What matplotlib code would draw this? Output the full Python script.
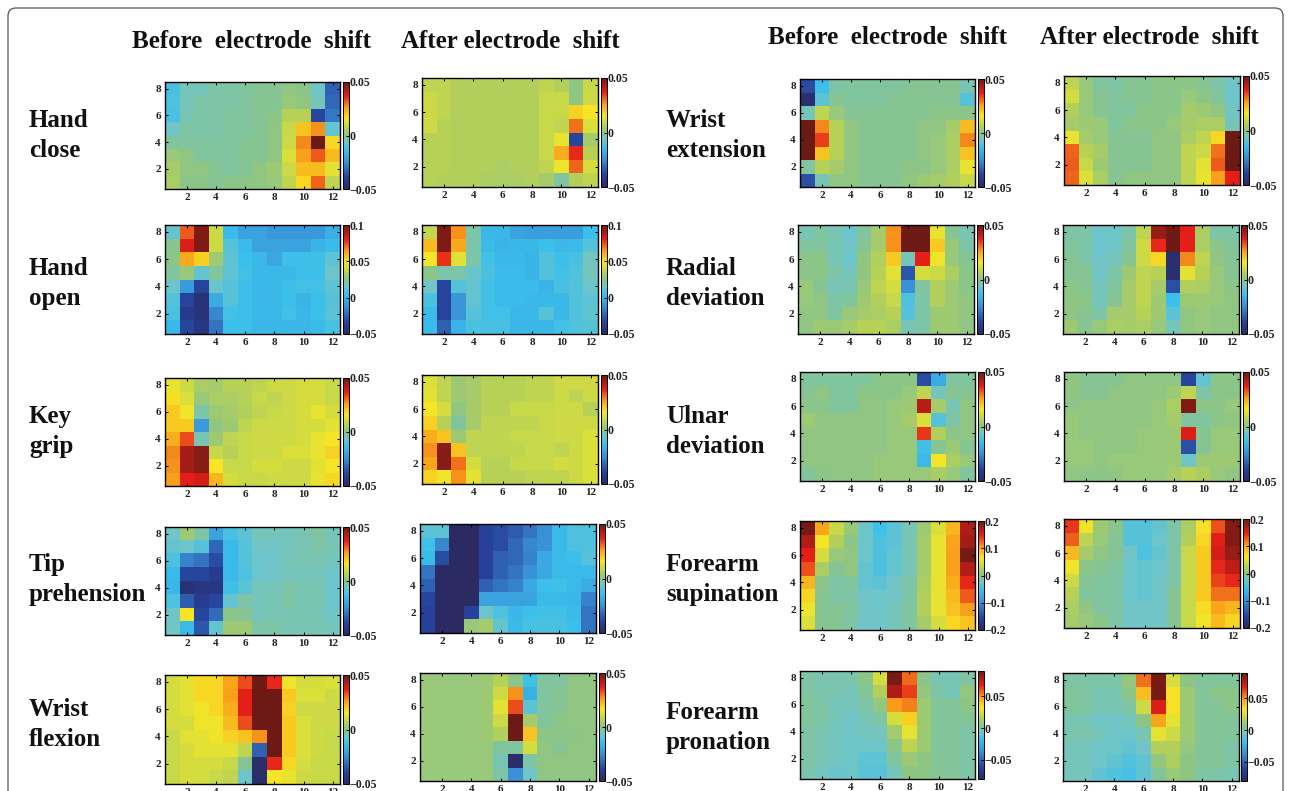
import numpy as np
import matplotlib
matplotlib.use('Agg')
import matplotlib.pyplot as plt
from matplotlib.colors import LinearSegmentedColormap
from matplotlib.patches import FancyBboxPatch

W, H = 1291, 791

# Valores en milesimas, fila 8 arriba, fila 1 abajo
hand_close_before = [
    [-12, -5, -5, -3, -3, -2, -1, -1, 1, 0, -6, -33],
    [-11, -5, -3, -3, -3, -2, -1, -1, 2, 1, -5, -32],
    [-12, -4, -3, -3, -2, -2, -1, 0, 7, 7, -38, -29],
    [-6, -3, -3, -3, -2, -2, -1, 1, 9, 21, 27, -8],
    [-2, -2, -2, -2, -2, -1, -1, 1, 10, 28, 50, 18],
    [2, 1, -2, -2, -2, -1, -1, 1, 12, 26, 32, 22],
    [4, 1, 1, -1, -2, -1, 1, 3, 10, 22, 22, 13],
    [5, 0, 0, -1, 0, 0, 1, 2, 8, 18, 31, 8]]
hand_close_after = [
    [8, 8, 6, 6, 6, 6, 6, 6, 8, 6, 1, 9],
    [10, 8, 6, 6, 6, 6, 6, 6, 9, 9, 1, 10],
    [10, 8, 6, 6, 6, 6, 6, 6, 9, 9, 19, 16],
    [10, 7, 6, 6, 6, 6, 6, 6, 9, 8, 30, 12],
    [7, 7, 6, 6, 6, 6, 6, 6, 9, 14, -38, 4],
    [7, 7, 6, 6, 6, 6, 6, 6, 9, 24, 36, 7],
    [7, 7, 6, 6, 6, 5, 6, 6, 8, 15, 31, 11],
    [7, 6, 6, 6, 5, 5, 5, 6, 4, -2, 6, 8]]
hand_open_before = [
    [13, 73, 97, 40, 3, -6, -6, -9, -9, -9, -9, -1],
    [24, 82, 97, 40, 10, 3, -5, -6, -6, -6, 0, 3],
    [26, 62, 54, 30, 12, 4, 2, -4, 5, 5, 5, 12],
    [22, 28, 13, 22, 12, 6, 2, 2, 2, 5, 5, 15],
    [15, -8, -33, 14, 10, 5, 2, 2, 5, 6, 6, 12],
    [10, -33, -43, -2, 10, 5, 2, 2, 4, 0, 4, 10],
    [8, -38, -43, -14, 6, 4, 2, 2, 6, 1, 4, 11],
    [2, -32, -40, -20, 4, 4, 1, 1, 1, 1, 3, 8]]
hand_open_after = [
    [38, 97, 66, 20, 2, 1, -6, -7, -7, -7, -7, 4],
    [58, 97, 62, 20, 3, 0, 1, 1, 4, 2, 3, 10],
    [48, 78, 44, 20, 6, 2, 2, 0, 9, 4, 7, 17],
    [25, 20, 20, 14, 8, 3, 3, 0, 9, 6, 9, 17],
    [16, -33, 10, 13, 6, 3, 3, 3, 0, 7, 9, 15],
    [8, -33, -10, 13, 6, 3, 3, 2, 2, 2, 9, 12],
    [3, -33, -10, 10, 6, 6, 2, 2, 10, 2, 9, 12],
    [3, -25, 0, 8, 7, 7, 1, 1, 1, 6, 9, 10]]
key_grip_before = [
    [14, 10, 5, 4, 7, 7, 8, 10, 10, 11, 11, 9],
    [17, 12, 2, 5, 5, 7, 9, 8, 10, 11, 11, 9],
    [20, 15, -3, 3, 4, 6, 8, 9, 10, 11, 14, 11],
    [20, 20, -22, 1, 3, 8, 10, 10, 10, 11, 11, 13],
    [24, 33, -4, 3, 8, 9, 10, 10, 10, 11, 14, 16],
    [28, 44, 47, 9, 7, 9, 10, 10, 12, 12, 14, 19],
    [27, 44, 47, 16, 9, 9, 11, 11, 10, 10, 13, 16],
    [26, 37, 39, 23, 11, 9, 9, 10, 10, 10, 14, 18]]
key_grip_after = [
    [12, 8, 3, 4, 7, 7, 7, 8, 8, 10, 10, 10],
    [13, 8, 3, 4, 7, 7, 7, 8, 8, 10, 8, 10],
    [16, 11, 1, 4, 7, 7, 9, 9, 9, 10, 10, 7],
    [19, 7, -2, 4, 8, 8, 8, 8, 9, 10, 10, 10],
    [24, 21, 3, 8, 8, 8, 9, 9, 9, 10, 10, 12],
    [27, 47, 21, 8, 8, 8, 8, 9, 9, 8, 10, 12],
    [25, 47, 30, 11, 7, 7, 9, 9, 9, 11, 10, 12],
    [19, 15, 27, 13, 7, 7, 7, 8, 8, 8, 10, 12]]
tip_before = [
    [-6, 3, -3, -20, -12, -9, -5, -5, -5, -4, -2, -5],
    [-8, -7, -10, -32, -15, -10, -6, -6, -5, -4, -3, -4],
    [-11, -27, -30, -37, -15, -10, -7, -6, -5, -4, -4, -5],
    [-15, -38, -38, -41, -15, -11, -7, -6, -5, -5, -5, -7],
    [-16, -46, -43, -43, -13, -9, -5, -5, -3, -4, -4, -7],
    [-11, -34, -41, -38, -8, -3, -5, -4, -3, -4, -4, -7],
    [-6, 16, -38, -31, 0, -1, -5, -4, -4, -4, -4, -6],
    [-6, -15, -35, -8, 3, 3, -3, -3, -4, -4, -4, -5]]
tip_after = [
    [-9, -9, -50, -50, -39, -37, -34, -30, -24, -15, -11, -11],
    [-13, -26, -50, -50, -39, -37, -32, -26, -24, -15, -11, -11],
    [-15, -37, -50, -50, -39, -33, -32, -27, -19, -15, -14, -10],
    [-30, -50, -50, -50, -39, -33, -30, -24, -19, -15, -15, -15],
    [-33, -50, -50, -50, -33, -30, -27, -19, -14, -13, -15, -18],
    [-38, -50, -50, -50, -20, -20, -20, -20, -15, -15, -16, -27],
    [-39, -50, -50, -39, -7, -11, -16, -14, -13, -13, -15, -30],
    [-39, -50, -50, 2, 4, -8, -15, -12, -12, -12, -14, -30]]
flexion_before = [
    [11, 13, 18, 18, 25, 33, 50, 36, 15, 11, 11, 12],
    [11, 13, 18, 18, 26, 37, 50, 50, 20, 12, 12, 10],
    [11, 13, 15, 18, 24, 37, 50, 50, 19, 10, 10, 10],
    [11, 11, 15, 15, 22, 33, 50, 50, 20, 12, 10, 10],
    [9, 13, 13, 15, 19, 21, 27, 50, 20, 12, 10, 9],
    [9, 11, 13, 13, 13, 8, -33, 50, 20, 12, 10, 9],
    [9, 11, 11, 11, 9, -1, -48, 36, 18, 11, 9, 9],
    [9, 11, 11, 9, 8, -7, -48, 16, 14, 10, 9, 9]]
flexion_after = [
    [2, 2, 2, 2, 3, 7, 0, -13, -2, -2, 1, 1],
    [2, 2, 2, 2, 3, 10, 27, -17, -2, -1, 1, 1],
    [2, 2, 2, 2, 3, 13, 33, -9, -2, -1, 1, 1],
    [2, 2, 2, 2, 3, 10, 50, 4, -2, 0, 1, 1],
    [2, 2, 2, 2, 3, 6, 50, 21, 0, 0, 0, 1],
    [2, 2, 2, 2, 2, -2, -2, 11, 1, -1, 1, 1],
    [2, 2, 2, 2, 2, -4, -48, -3, 1, 1, 1, 1],
    [2, 2, 2, 2, 2, -3, -24, -6, 1, 1, 1, 1]]
extension_before = [
    [-37, -14, -3, -2, -2, -2, -2, -1, -1, -1, -1, -4],
    [-47, -9, -1, -2, -2, -2, -1, -1, -1, -1, -1, -10],
    [-5, 8, 2, -1, -1, -1, -1, -1, -1, 0, 0, 0],
    [50, 28, 7, 1, -1, -1, -1, -1, 1, 1, 4, 22],
    [50, 34, 7, 1, -1, -1, -1, -1, 1, 2, 5, 28],
    [50, 21, 7, 1, -1, -1, -1, -1, 1, 2, 5, 21],
    [-2, 7, 4, 1, -1, -1, -1, 0, 0, 2, 5, 14],
    [-36, -4, 1, 1, -1, -1, -1, 1, 3, 4, 6, 9]]
extension_after = [
    [8, 2, -2, -3, -1, -1, 0, 0, 0, -1, -3, -6],
    [11, 2, -1, -2, -1, -1, 0, 0, 2, 0, -2, -7],
    [6, 2, -1, -2, -2, 0, 0, 0, 4, 3, 1, -6],
    [4, 3, 2, -2, 0, 0, 0, 2, 4, 5, 5, -5],
    [14, 4, 2, -1, -1, -1, 1, 1, 5, 8, 18, 50],
    [31, 7, 4, -1, -1, -1, 1, 1, 8, 10, 30, 50],
    [32, 9, 3, -1, -1, -1, 1, 1, 8, 13, 32, 50],
    [31, 12, 5, -1, 1, 1, 1, 1, 8, 14, 26, 37]]
radial_before = [
    [-4, -2, -4, -7, -2, 4, 27, 50, 50, 14, -1, -4],
    [-2, -2, -4, -6, -1, 4, 27, 50, 50, 20, 2, -3],
    [0, 0, -4, -7, 1, 6, 20, -5, 37, 15, 2, -1],
    [0, 0, -3, -5, 1, 7, 13, -35, 11, 10, 5, 0],
    [2, -1, -4, -4, 2, 8, 11, -24, -2, 6, 3, 0],
    [2, 1, -3, -2, 3, 6, 9, -11, -3, 6, 3, 1],
    [1, 1, -2, 2, 4, 5, 7, -10, -3, 3, 3, 1],
    [1, 3, 2, 4, 7, 7, 5, -4, -3, 3, 3, 1]]
radial_after = [
    [-3, -3, -7, -7, -3, 8, 45, 50, 37, 5, -3, -3],
    [-2, -3, -7, -6, -2, 10, 36, 50, 37, 5, 0, -2],
    [-1, -3, -6, -5, -1, 10, 18, -47, 28, 8, 1, -1],
    [-1, -1, -6, -3, 3, 8, 7, -47, 13, 7, 2, -1],
    [0, -1, -5, -2, 4, 8, 4, -36, 6, 5, 2, 0],
    [1, 0, -5, -1, 4, 8, 3, -14, 3, 3, 2, 1],
    [1, -1, -3, 4, 4, 7, 3, -9, 1, 2, 1, 1],
    [3, -1, 2, 5, 4, 5, 2, -5, 1, 2, 1, 1]]
ulnar_before = [
    [-2, -2, -2, -2, -2, 0, 0, 0, -37, -18, -2, -2],
    [-1, 1, -2, -2, 0, 0, 0, 2, 8, -5, -1, -1],
    [0, 0, -2, -2, 1, 1, 2, 3, 42, 4, -4, 1],
    [3, 1, 1, 1, 1, 1, 2, 4, 12, -10, -3, 1],
    [1, 1, 1, 1, 1, 1, 2, 2, 35, 6, 0, 1],
    [1, 1, 1, 1, 1, 1, 2, 2, -13, -1, 3, -1],
    [1, 1, 1, 1, 1, 2, 2, 2, -15, 16, 5, 2],
    [-2, 0, 1, 1, 1, 2, 2, 2, 2, 5, 2, -2]]
ulnar_after = [
    [1, -1, -1, -1, 1, 1, 1, 1, -38, -8, 0, 0],
    [1, -1, -1, 1, 1, 1, 1, 3, 8, -3, 0, 0],
    [0, 1, 1, 1, 1, 1, 2, 5, 48, 0, 0, 2],
    [2, 1, 1, 1, 1, 1, 2, 4, -2, -2, 0, 1],
    [2, 1, 1, 1, 1, 2, 2, 3, 38, -1, 2, 2],
    [2, 2, 1, 1, 1, 2, 2, 3, -36, -1, 2, 2],
    [2, 2, 1, 2, 2, 2, 2, 3, -6, 3, 3, 3],
    [1, 0, 0, 1, 2, 2, 2, 4, 7, 5, 2, 1]]
supination_before = [
    [196, 100, 36, 8, -28, -52, -36, -16, 12, 48, 92, 170],
    [170, 64, 24, 0, -28, -44, -36, -16, 16, 56, 100, 176],
    [148, 44, 8, 4, -28, -44, -32, -16, 16, 56, 104, 196],
    [130, 20, -4, 4, -32, -44, -32, -16, 16, 56, 104, 170],
    [92, 0, -12, -8, -32, -36, -24, -12, 20, 56, 96, 144],
    [72, -4, -12, -12, -24, -28, -24, -12, 24, 56, 88, 128],
    [58, -4, -4, -8, -24, -28, -20, -8, 24, 56, 84, 104],
    [48, -4, -4, -12, -24, -24, -20, -8, 16, 44, 72, 84]]
supination_after = [
    [140, 60, 12, 0, -40, -40, -32, -12, 20, 66, 130, 190],
    [125, 30, 8, -4, -40, -40, -28, -12, 24, 72, 150, 190],
    [90, 16, 4, -4, -24, -44, -32, -12, 36, 80, 155, 180],
    [60, 0, -4, -8, -28, -32, -28, -12, 36, 80, 145, 165],
    [40, -4, -8, -12, -28, -32, -24, -12, 36, 80, 135, 145],
    [28, -8, -8, -12, -28, -32, -24, -4, 36, 80, 120, 120],
    [20, 4, -8, -12, -24, -24, -24, -4, 36, 70, 100, 92],
    [16, 8, 0, -12, -24, -24, -24, -4, 36, 60, 88, 72]]
pronation_before = [
    [0, -1, -1, -1, 5, 24, 88, 57, 5, -2, -2, 1],
    [1, -1, -1, -3, 3, 15, 78, 63, 7, 0, -3, 8],
    [2, 0, -3, -3, 0, 7, 50, 54, 10, 2, 2, 6],
    [2, 0, -3, -5, -2, 1, 24, 38, 10, 2, 2, 3],
    [0, -1, -4, -5, -4, -3, 11, 28, 10, 2, 2, 0],
    [1, -2, -4, -6, -6, -6, 5, 18, 10, 2, 2, 0],
    [0, -2, -4, -6, -10, -10, 2, 10, 6, 3, 2, 0],
    [-1, -4, -7, -6, -11, -11, -3, 6, 6, 3, 2, 0]]
pronation_after = [
    [0, 0, 0, 0, 8, 56, 88, 24, 6, 2, 2, 2],
    [2, 1, -2, -2, 5, 42, 88, 33, 10, 2, 5, 5],
    [2, 1, -2, -2, 1, 22, 70, 33, 10, 2, 3, 5],
    [-2, -2, -5, -5, -3, 6, 48, 28, 10, 3, 3, 2],
    [-1, -1, -3, -6, -6, -2, 28, 22, 10, 3, 3, 2],
    [-3, -3, -6, -6, -9, -5, 15, 15, 8, 3, 3, 0],
    [-3, -3, -6, -9, -13, -9, 7, 14, 6, 3, 3, 0],
    [-3, -3, -9, -13, -16, -9, 2, 9, 6, 1, 0, -2]]

# Escalas de las barras de color
scale_050 = (-0.05, 0.05, [-0.05, 0, 0.05], ['\u22120.05', '0', '0.05'])
scale_open = (-0.05, 0.1, [-0.05, 0, 0.05, 0.1], ['\u22120.05', '0', '0.05', '0.1'])
scale_sup = (-0.2, 0.2, [-0.2, -0.1, 0, 0.1, 0.2], ['\u22120.2', '\u22120.1', '0', '0.1', '0.2'])
scale_pron = (-0.08, 0.09, [-0.05, 0, 0.05], ['\u22120.05', '0', '0.05'])

# jet impreso en CMYK
cmap = LinearSegmentedColormap.from_list('jet_cmyk', [
    (0.00, '#2b2a62'), (0.11, '#27419a'), (0.25, '#3a8fd5'), (0.36, '#3bbfec'),
    (0.44, '#72c6c6'), (0.50, '#8ac58a'), (0.56, '#b2cf5c'), (0.62, '#dbe03a'),
    (0.66, '#f7e627'), (0.76, '#f9a11b'), (0.82, '#ee5a1c'), (0.87, '#e61f19'),
    (1.00, '#6e1a14')])

# datos, escala, izquierda, derecha, arriba, abajo, barra izquierda (pixeles)
panels = [
    (hand_close_before, scale_050, 165, 340, 82, 189, 343),
    (hand_close_after, scale_050, 422, 598, 78, 187, 601),
    (hand_open_before, scale_open, 165, 340, 225, 334, 343),
    (hand_open_after, scale_open, 422, 598, 225, 334, 601),
    (key_grip_before, scale_050, 165, 340, 378, 486, 343),
    (key_grip_after, scale_050, 422, 598, 375, 484, 601),
    (tip_before, scale_050, 165, 340, 527, 635, 343),
    (tip_after, scale_050, 420, 596, 524, 633, 599),
    (flexion_before, scale_050, 165, 340, 675, 784, 343),
    (flexion_after, scale_050, 420, 596, 673, 781, 599),
    (extension_before, scale_050, 800, 975, 79, 187, 978),
    (extension_after, scale_050, 1064, 1240, 76, 185, 1243),
    (radial_before, scale_050, 798, 974, 225, 334, 977),
    (radial_after, scale_050, 1063, 1239, 225, 334, 1241),
    (ulnar_before, scale_050, 800, 975, 372, 481, 978),
    (ulnar_after, scale_050, 1064, 1240, 372, 481, 1243),
    (supination_before, scale_sup, 800, 975, 521, 630, 978),
    (supination_after, scale_sup, 1064, 1240, 519, 628, 1243),
    (pronation_before, scale_pron, 800, 975, 671, 779, 978),
    (pronation_after, scale_pron, 1063, 1239, 673, 781, 1241),
]

# texto 1, texto 2, x, linea base 1, linea base 2
row_labels = [
    ('Hand', 'close', 29, 127, 157), ('Hand', 'open', 29, 275, 305),
    ('Key', 'grip', 29, 423, 453), ('Tip', 'prehension', 29, 571, 601),
    ('Wrist', 'flexion', 29, 716, 746),
    ('Wrist', 'extension', 666, 127, 157), ('Radial', 'deviation', 666, 275, 305),
    ('Ulnar', 'deviation', 666, 423, 453), ('Forearm', 'supination', 666, 571, 601),
    ('Forearm', 'pronation', 666, 719, 749),
]
col_titles = [
    ('Before  electrode  shift', 132, 48), ('After electrode  shift', 401, 48),
    ('Before  electrode  shift', 768, 44), ('After electrode  shift', 1040, 44),
]

serif = 'Liberation Serif'
fig = plt.figure(figsize=(W / 100, H / 100), dpi=100)

# marco redondeado, el borde inferior queda fuera de la imagen
frame = FancyBboxPatch((8, -20), 1275, H - 8 + 20, boxstyle='round,pad=0,rounding_size=8',
                       transform=None, fc='white', ec='#555555', lw=0.9, zorder=-1)
fig.add_artist(frame)


def px_axes(left, right, top, bottom):
    return fig.add_axes([left / W, 1 - bottom / H, (right - left) / W, (bottom - top) / H])


for data, scale, left, right, top, bottom, cb_left in panels:
    vmin, vmax, cb_ticks, cb_labels = scale
    valores = np.array(data, dtype=float) / 1000
    ax = px_axes(left, right, top, bottom)
    im = ax.imshow(valores[::-1], origin='lower', extent=(0.5, 12.5, 0.5, 8.5), aspect='auto',
                   cmap=cmap, vmin=vmin, vmax=vmax, interpolation='nearest')
    ax.set_xticks(range(2, 13, 2))
    ax.set_yticks(range(2, 9, 2))
    ax.tick_params(direction='in', length=2, width=0.7, pad=3, top=True, right=True,
                   labelsize=8, labelcolor='#222222')
    for lab in ax.get_xticklabels() + ax.get_yticklabels():
        lab.set_fontfamily(serif)
        lab.set_fontweight('bold')
    for sp in ax.spines.values():
        sp.set_linewidth(1.0)

    cax = px_axes(cb_left, cb_left + 6, top, bottom)
    cb = fig.colorbar(im, cax=cax)
    cb.set_ticks(cb_ticks)
    cb.set_ticklabels(cb_labels)
    cb.ax.tick_params(length=2, width=0.7, pad=0.5, direction='in',
                      labelsize=8.5, labelcolor='#222222')
    cb.outline.set_linewidth(0.7)
    for lab in cb.ax.get_yticklabels():
        lab.set_fontfamily(serif)
        lab.set_fontweight('bold')

for line1, line2, x, y1, y2 in row_labels:
    for txt, y in ((line1, y1), (line2, y2)):
        fig.text(x / W, 1 - y / H, txt, family=serif, weight='bold', fontsize=18,
                 va='baseline', ha='left', color='#111111')

for txt, x, y in col_titles:
    fig.text(x / W, 1 - y / H, txt, family=serif, weight='bold', fontsize=18,
             va='baseline', ha='left', color='#111111')

fig.savefig('out.png', dpi=100)
